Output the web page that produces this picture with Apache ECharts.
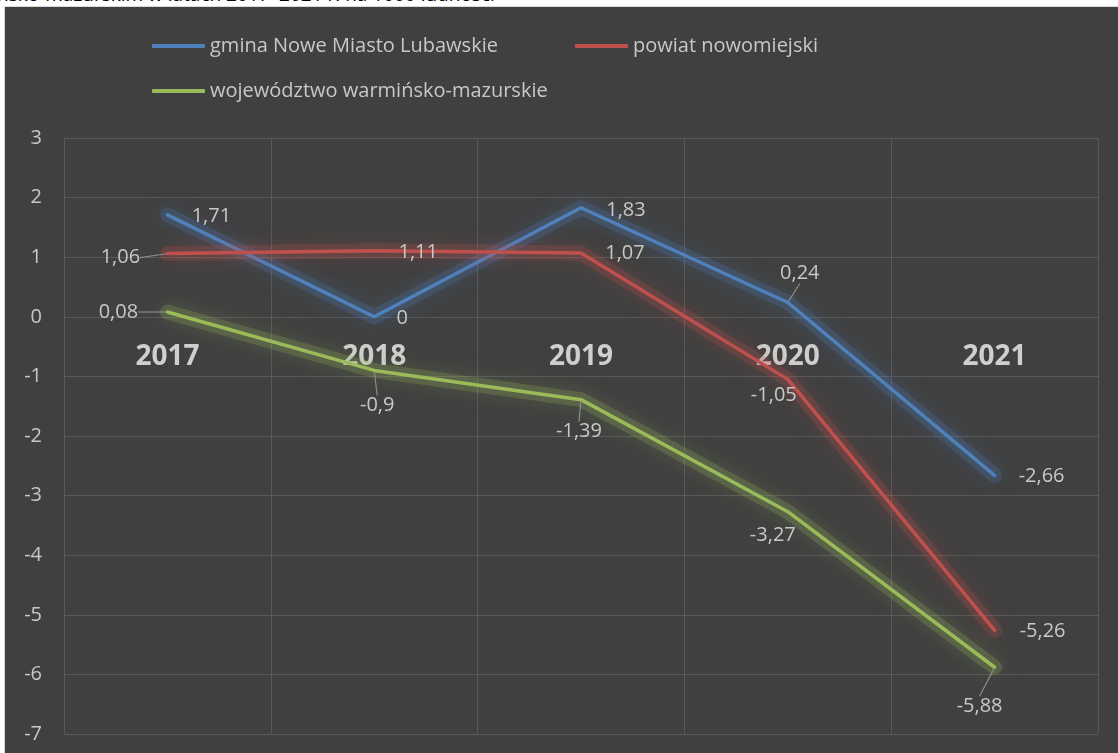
<!DOCTYPE html>
<html>
<head>
<meta charset="utf-8">
<script src="https://cdn.jsdelivr.net/npm/echarts@6/dist/echarts.min.js"></script>
<style>
html,body{margin:0;padding:0;background:#fff;width:1118px;height:753px;overflow:hidden;}
#title{position:absolute;left:-3px;top:-19px;font-family:"Open Sans",sans-serif;font-size:19px;color:#000;white-space:nowrap;}
#panel{position:absolute;left:4px;top:6px;width:1120px;height:760px;background:#404040;border:1px solid #d9d9d9;box-sizing:border-box;}
#chart{position:absolute;left:0;top:0;width:1118px;height:753px;}
</style>
</head>
<body>
<div id="title">ńsko-mazurskim w latach 2017–2021 r. na 1000 ludności</div>
<div id="panel"></div>
<div id="chart"></div>
<script>
const categories = ['2017', '2018', '2019', '2020', '2021'];
const seriesNames = ['gmina Nowe Miasto Lubawskie', 'powiat nowomiejski', 'województwo warmińsko-mazurskie'];
const gminaValues = [1.71, 0, 1.83, 0.24, -2.66];
const powiatValues = [1.06, 1.11, 1.07, -1.05, -5.26];
const wojewodztwoValues = [0.08, -0.9, -1.39, -3.27, -5.88];
const yTicks = {min: -7, max: 3, interval: 1};

// label placement (offsets of label centre from point, px) and leader-line flags
const labelOffsets = [
  [[44, 1], [28, 1], [45, 3], [12, -29], [47, 1]],
  [[-47, 4], [44, 2], [44, 0], [-14, 16], [48, 1]],
  [[-49, 0], [3, 35], [-2, 32], [-15, 24], [-15, 39]]
];
const leader = [
  [false, false, false, true, false],
  [true, false, false, false, false],
  [true, true, true, false, true]
];
const colors = ['#4f81bd', '#c0504d', '#9bbb59'];
const glow = ['rgba(79,129,189,0.22)', 'rgba(192,80,77,0.22)', 'rgba(155,187,89,0.22)'];
const glowShadow = ['rgba(79,129,189,0.85)', 'rgba(192,80,77,0.85)', 'rgba(155,187,89,0.85)'];
const FONT = '"Open Sans", sans-serif';
const TXT = '#c8c8c8';

function fmt(v){ return String(v).replace('.', ','); }

const allValues = [gminaValues, powiatValues, wojewodztwoValues];
const series = [];
allValues.forEach((vals, si) => {
  // soft glow under each line (same data, same scales)
  series.push({
    name: seriesNames[si] + ' – poświata',
    type: 'line',
    data: vals,
    symbol: 'none',
    silent: true,
    lineStyle: {color: glow[si], width: 15, shadowBlur: 20, shadowColor: glowShadow[si], cap: 'round', join: 'round'},
    label: {show: false},
    emphasis: {disabled: true},
    animation: false,
    z: 3 + si * 2
  });
  series.push({
    name: seriesNames[si],
    type: 'line',
    data: vals.map((v, i) => ({
      value: v,
      labelLine: {show: leader[si][i]}
    })),
    symbol: 'circle',
    symbolSize: 2,
    itemStyle: {color: 'rgba(0,0,0,0)', borderWidth: 0},
    lineStyle: {color: colors[si], width: 3.5, cap: 'round', join: 'round'},
    label: {
      show: true,
      position: 'inside',
      formatter: p => fmt(p.value),
      color: TXT,
      fontFamily: FONT,
      fontSize: 20
    },
    labelLine: {show: false, lineStyle: {color: '#8c8c8c', width: 1.2}},
    labelLayout: p => {
      const o = labelOffsets[si][p.dataIndex];
      return {dx: o[0], dy: o[1]};
    },
    emphasis: {disabled: true},
    animation: false,
    z: 4 + si * 2
  });
});

const chart = echarts.init(document.getElementById('chart'));
chart.setOption({
  backgroundColor: 'transparent',
  color: colors,
  animation: false,
  legend: [0, 1, 2].map(i => ({
    left: [147, 570, 147][i],
    top: [31, 31, 76][i],
    data: [{name: seriesNames[i], icon: 'roundRect', itemStyle: {color: colors[i], opacity: 1}}],
    itemWidth: 53,
    itemHeight: 4,
    itemGap: 0,
    selectedMode: false,
    textStyle: {color: TXT, fontFamily: FONT, fontSize: 20}
  })),
  grid: {left: 64, right: 20, top: 138, bottom: 19, containLabel: false, outerBoundsMode: 'none'},
  xAxis: {
    type: 'category',
    data: categories,
    boundaryGap: true,
    position: 'bottom',
    offset: -417.5,
    axisLine: {show: false, onZero: false},
    axisTick: {show: false},
    axisLabel: {color: '#cfcfcf', fontFamily: FONT, fontSize: 28, fontWeight: 'bold', margin: 27},
    splitLine: {show: true, lineStyle: {color: '#595959', width: 1}}
  },
  yAxis: {
    type: 'value',
    min: yTicks.min,
    max: yTicks.max,
    interval: yTicks.interval,
    axisLine: {show: false},
    axisTick: {show: false},
    axisLabel: {color: TXT, fontFamily: FONT, fontSize: 20, margin: 22},
    splitLine: {show: true, lineStyle: {color: '#595959', width: 1}}
  },
  series: series
});
</script>
</body>
</html>
